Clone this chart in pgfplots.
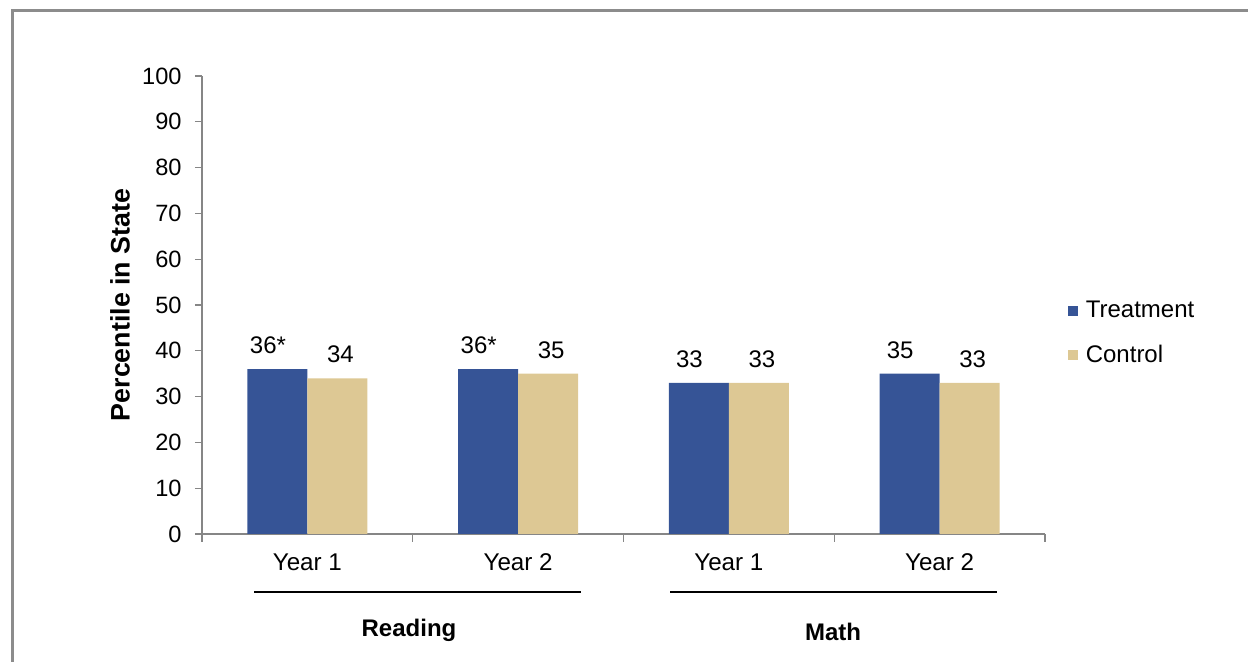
\documentclass[border=0pt]{standalone}
\usepackage{pgfplots}
\pgfplotsset{compat=1.18}
\usepackage{fontspec}
\setmainfont{Liberation Sans}

\definecolor{treat}{RGB}{54,84,150}
\definecolor{ctrl}{RGB}{221,200,148}
\definecolor{axgray}{RGB}{134,134,134}
\definecolor{framegray}{RGB}{140,140,140}

\begin{document}
\fontsize{11.5}{13.8}\selectfont
\begin{tikzpicture}
\useasboundingbox (0,0) rectangle (624pt,331pt);
% outer frame (cut by the page edge)
\draw[framegray, line width=1.5pt] (6pt,0) -- (6pt,325.5pt) -- (624pt,325.5pt);

\begin{axis}[
    at={(101pt,64pt)}, anchor=south west,
    scale only axis,
    width=421.5pt, height=229pt,
    ybar=0pt, bar width=30pt,
    xmin=-0.5, xmax=3.5,
    ymin=0, ymax=100,
    ytick={0,10,...,100},
    xtick={0,1,2,3},
    xticklabels={Year 1, Year 2, Year 1, Year 2},
    minor xtick={-0.5,0.5,1.5,2.5,3.5},
    every major x tick/.append style={draw=none},
    tick align=outside,
    major tick length=3.5pt,
    minor tick length=4pt,
    axis x line*=bottom,
    axis y line*=left,
    axis line style={axgray, line width=0.6pt, -},
    tick style={axgray, line width=0.6pt},
    /pgf/number format/assume math mode=true,
    yticklabel style={xshift=-2.7pt, font=\fontsize{11.8}{14}\selectfont},
    xticklabel style={yshift=-2.5pt, font=\fontsize{12.1}{14}\selectfont},
    ylabel={Percentile in State},
    every axis y label/.style={at={(axis description cs:0,0.5)}, rotate=90, anchor=center, yshift=41pt,
        font=\fontsize{13.4}{16}\selectfont\bfseries},
    point meta=explicit symbolic,
    nodes near coords,
    every node near coord/.append style={anchor=south, inner sep=0pt, yshift=7.5pt, black,
        font=\fontsize{12}{14}\selectfont},
    legend image code/.code={\fill[#1] (0pt,-2.5pt) rectangle (5pt,2.5pt);},
    legend style={at={(axis description cs:1.027,0.438)}, anchor=west,
        draw=none, fill=none, inner sep=0pt, row sep=4.2pt,
        font=\fontsize{12}{14}\selectfont,
        nodes={inner sep=0.333em}},
    legend cell align=left,
]
\addplot[draw=none, fill=treat, every node near coord/.append style={xshift=-4.7pt}]
    coordinates {(0,36)[36*] (1,36)[36*] (2,33)[33] (3,35)[35]};
\addplot[draw=none, fill=ctrl, every node near coord/.append style={xshift=1.5pt}]
    coordinates {(0,34)[34] (1,35)[35] (2,33)[33] (3,33)[33]};
\legend{Treatment, Control}
\end{axis}

% subject groups under the categories
\draw[black, line width=1pt] (127pt,35pt) -- (290.5pt,35pt);
\draw[black, line width=1pt] (335pt,35pt) -- (498.5pt,35pt);
\node[font=\fontsize{12}{14}\selectfont\bfseries] at (204.5pt,16pt) {Reading};
\node[font=\fontsize{12}{14}\selectfont\bfseries] at (416.5pt,15pt) {Math};
\end{tikzpicture}
\end{document}
